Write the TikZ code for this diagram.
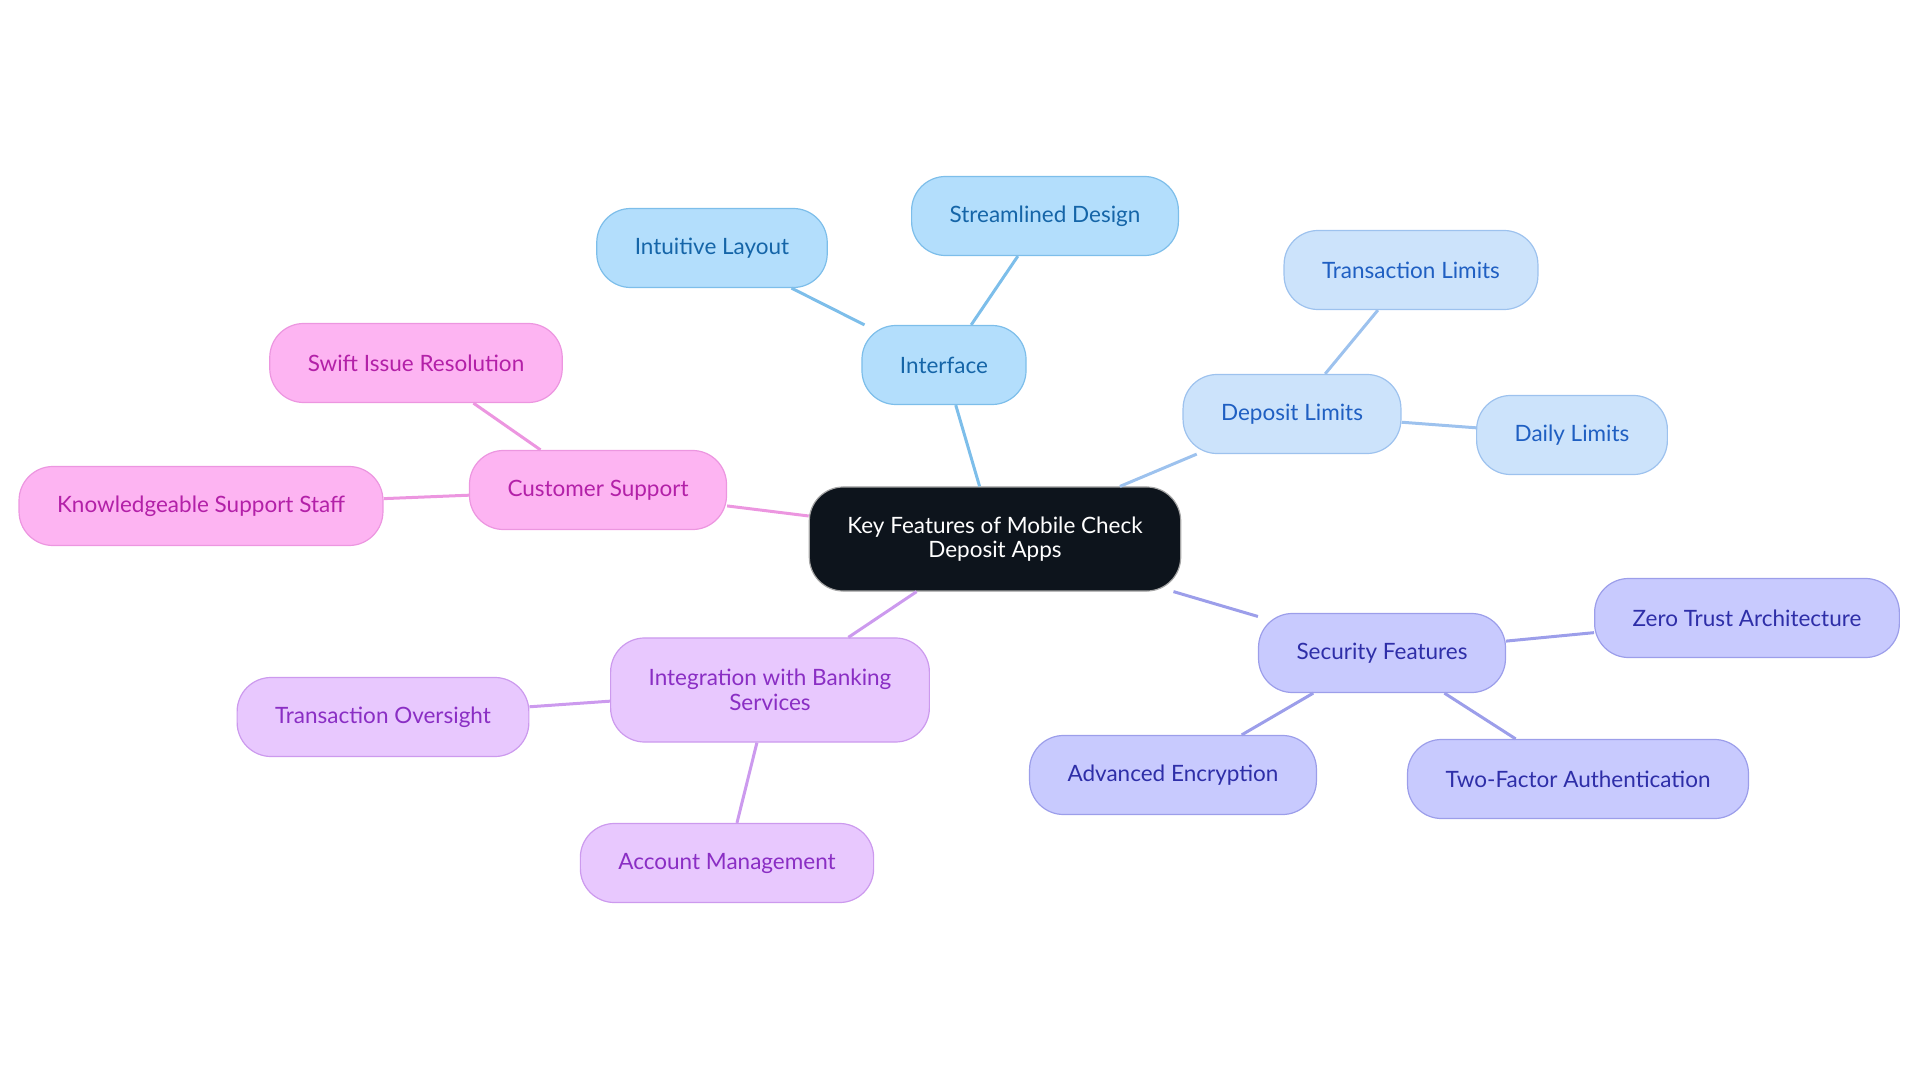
\documentclass[tikz,border=0pt]{standalone}
\usepackage{fontspec}
\setmainfont{Lato}
\definecolor{rootfill}{RGB}{13,20,28}
\definecolor{ifill}{RGB}{179,222,252}
\definecolor{iline}{RGB}{125,190,234}
\definecolor{itext}{RGB}{21,101,168}
\definecolor{dfill}{RGB}{204,227,251}
\definecolor{dline}{RGB}{157,194,238}
\definecolor{dtext}{RGB}{31,95,194}
\definecolor{sfill}{RGB}{200,202,254}
\definecolor{sline}{RGB}{156,158,234}
\definecolor{stext}{RGB}{46,46,168}
\definecolor{cfill}{RGB}{253,180,242}
\definecolor{cline}{RGB}{236,150,224}
\definecolor{ctext}{RGB}{179,32,168}
\definecolor{bfill}{RGB}{232,200,254}
\definecolor{bline}{RGB}{204,154,238}
\definecolor{btext}{RGB}{138,46,196}

\begin{document}
\begin{tikzpicture}[x=0.025cm,y=-0.025cm,
  topic/.style={rectangle,rounded corners=0.85cm,line width=0.03cm,
    minimum height=1.975cm,inner xsep=0.95cm,align=center,
    font=\fontsize{16}{17.5}\selectfont},
  root/.style={topic,fill=rootfill,draw=gray!70,text=white,minimum height=2.6cm},
  itopic/.style={topic,fill=ifill,draw=iline,text=itext},
  dtopic/.style={topic,fill=dfill,draw=dline,text=dtext},
  stopic/.style={topic,fill=sfill,draw=sline,text=stext},
  ctopic/.style={topic,fill=cfill,draw=cline,text=ctext},
  btopic/.style={topic,fill=bfill,draw=bline,text=btext},
  link/.style={line width=0.075cm}]
  \useasboundingbox (0,0) rectangle (1920,1083);
  \node[root] (key) at (995,539) {Key Features of Mobile Check\\Deposit Apps};
  \node[itopic] (iface) at (944,365) {Interface};
  \node[itopic] (layout) at (712,248) {Intuitive Layout};
  \node[itopic] (design) at (1045,216) {Streamlined Design};
  \node[dtopic] (deplim) at (1292,414) {Deposit Limits};
  \node[dtopic] (translim) at (1411,270) {Transaction Limits};
  \node[dtopic] (daily) at (1572,435) {Daily Limits};
  \node[stopic] (secure) at (1382,653) {Security Features};
  \node[stopic] (zerotrust) at (1747,618) {Zero Trust Architecture};
  \node[stopic] (encrypt) at (1173,775) {Advanced Encryption};
  \node[stopic] (twofactor) at (1578,779) {Two-Factor Authentication};
  \node[ctopic] (support) at (598,490) {Customer Support};
  \node[ctopic] (swift) at (416,363) {Swift Issue Resolution};
  \node[ctopic] (staff) at (201,506) {Knowledgeable Support Staff};
  \node[btopic,minimum height=2.6cm] (banking) at (770,690) {Integration with Banking\\Services};
  \node[btopic] (oversight) at (383,717) {Transaction Oversight};
  \node[btopic] (account) at (727,863) {Account Management};
  % branches
  \draw[link,iline] (key) -- (iface);
  \draw[link,iline] (iface) -- (layout);
  \draw[link,iline] (iface) -- (design);
  \draw[link,dline] (key) -- (deplim);
  \draw[link,dline] (deplim) -- (translim);
  \draw[link,dline] (deplim) -- (daily);
  \draw[link,sline] (key) -- (secure);
  \draw[link,sline] (secure) -- (zerotrust);
  \draw[link,sline] (secure) -- (encrypt);
  \draw[link,sline] (secure) -- (twofactor);
  \draw[link,cline] (key) -- (support);
  \draw[link,cline] (support) -- (swift);
  \draw[link,cline] (support) -- (staff);
  \draw[link,bline] (key) -- (banking);
  \draw[link,bline] (banking) -- (oversight);
  \draw[link,bline] (banking) -- (account);
\end{tikzpicture}
\end{document}
